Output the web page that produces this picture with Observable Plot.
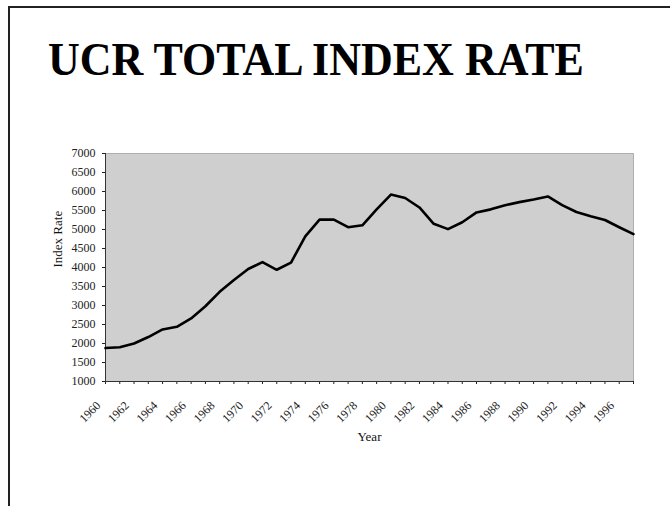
<!DOCTYPE html>
<html><head>
<meta charset="utf-8">
<script src="https://cdn.jsdelivr.net/npm/d3@7"></script>
<script src="https://cdn.jsdelivr.net/npm/@observablehq/plot@0.6"></script>
<style>
body{margin:0;background:#fff;}
#page{position:relative;width:670px;height:506px;overflow:hidden;font-family:"Liberation Serif","Times New Roman",serif;background:#fff;}
#frameTop{position:absolute;left:8px;top:6px;width:662px;height:2px;background:#222;}
#frameLeft{position:absolute;left:8px;top:6px;width:2px;height:500px;background:#222;}
#title{position:absolute;left:48px;top:33px;white-space:nowrap;font-weight:bold;font-size:44px;color:#000;transform:scaleY(1.06);transform-origin:left top;}
#chart{position:absolute;left:0;top:0;}
</style></head>
<body>
<div id="page">
  <div id="frameTop"></div>
  <div id="frameLeft"></div>
  <div id="chart"></div>
  <div id="title">UCR TOTAL INDEX RATE</div>
</div>
<script>
const years = [1960,1961,1962,1963,1964,1965,1966,1967,1968,1969,1970,1971,1972,1973,1974,1975,1976,1977,1978,1979,1980,1981,1982,1983,1984,1985,1986,1987,1988,1989,1990,1991,1992,1993,1994,1995,1996,1997];
const rates = [1880,1900,2000,2170,2370,2440,2660,2980,3360,3670,3960,4140,3940,4130,4820,5260,5260,5060,5110,5530,5920,5830,5580,5150,5010,5190,5450,5530,5640,5720,5790,5870,5640,5460,5350,5250,5060,4880];
const yTicks = [1000,1500,2000,2500,3000,3500,4000,4500,5000,5500,6000,6500,7000];
const xLabelYears = [1960,1962,1964,1966,1968,1970,1972,1974,1976,1978,1980,1982,1984,1986,1988,1990,1992,1994,1996];
const yTitle = "Index Rate";
const xTitle = "Year";

const data = years.map((y, i) => ({year: y, rate: rates[i]}));

const plot = Plot.plot({
  width: 670, height: 506,
  marginTop: 153, marginLeft: 105, marginRight: 37, marginBottom: 125,
  style: {fontFamily: '"Liberation Serif", serif', fontSize: "12px", color: "#222", background: "transparent"},
  x: {domain: [1960, 1997]},
  y: {domain: [1000, 7000]},
  marks: [
    Plot.frame({fill: "#cfcfcf", stroke: "#777", strokeDasharray: "1,1"}),
    Plot.axisY({ticks: yTicks, tickSize: 3, tickPadding: 7, tickFormat: d => String(d), label: null}),
    Plot.axisX({ticks: years, tickSize: 3, tickFormat: () => "", label: null}),
    Plot.axisX({ticks: xLabelYears, tickSize: 0, tickPadding: 22, tickRotate: -45, dx: -7, tickFormat: d => String(d), label: null}),
    Plot.ruleX([1960], {stroke: "#333"}),
    Plot.ruleY([1000], {stroke: "#333"}),
    Plot.line(data, {x: "year", y: "rate", stroke: "#000", strokeWidth: 2.6}),
    Plot.text([yTitle], {frameAnchor: "left", dx: -48, rotate: -90, text: d => d, fontSize: 13, fill: "#111"}),
    Plot.text([xTitle], {frameAnchor: "bottom", dy: 59, text: d => d, fontSize: 13, fill: "#111"})
  ]
});
document.getElementById("chart").appendChild(plot);
</script>
</body></html>
